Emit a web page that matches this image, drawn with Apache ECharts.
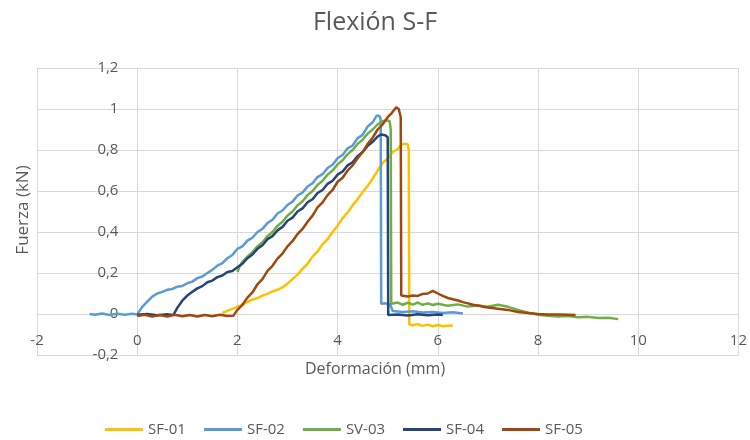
<!DOCTYPE html>
<html>
<head>
<meta charset="utf-8">
<script src="https://cdn.jsdelivr.net/npm/echarts@6/dist/echarts.min.js"></script>
<style>
html,body{margin:0;padding:0;background:#fff;}
#chart{width:750px;height:440px;}
</style>
</head>
<body>
<div id="chart"></div>
<script>
// Series names
var seriesNames = ['SF-01', 'SF-02', 'SV-03', 'SF-04', 'SF-05'];
// Axis ticks
var xTicks = [-2, 0, 2, 4, 6, 8, 10, 12];
var yTicks = [-0.2, 0, 0.2, 0.4, 0.6, 0.8, 1, 1.2];

// [Deformación (mm), Fuerza (kN)]
var sf01 = [[1.7,0.005],[1.8,0.015],[1.9,0.025],[2.0,0.035],[2.1,0.045],[2.25,0.065],[2.4,0.078],[2.5,0.09],[2.6,0.098],[2.7,0.11],[2.8,0.118],[2.9,0.13],[3.0,0.148],[3.1,0.17],[3.2,0.192],[3.3,0.22],[3.4,0.245],[3.5,0.28],[3.6,0.305],[3.7,0.34],[3.8,0.365],[3.9,0.4],[4.0,0.43],[4.1,0.468],[4.2,0.495],[4.3,0.53],[4.4,0.56],[4.5,0.595],[4.6,0.625],[4.7,0.66],[4.8,0.7],[4.9,0.738],[5.0,0.758],[5.1,0.79],[5.2,0.805],[5.27,0.825],[5.33,0.83],[5.4,0.828],[5.42,0.8],[5.43,-0.05],[5.5,-0.055],[5.6,-0.05],[5.7,-0.058],[5.8,-0.052],[5.9,-0.06],[6.0,-0.054],[6.1,-0.06],[6.3,-0.056]];

var sf02 = [[-0.95,0.0],[-0.85,-0.004],[-0.7,0.002],[-0.55,-0.005],[-0.4,0.001],[-0.25,-0.004],[-0.1,0.001],[0.0,-0.002],[0.1,0.035],[0.2,0.06],[0.3,0.085],[0.4,0.1],[0.5,0.108],[0.6,0.118],[0.7,0.122],[0.8,0.133],[0.9,0.137],[1.0,0.15],[1.1,0.158],[1.2,0.175],[1.3,0.183],[1.4,0.2],[1.5,0.215],[1.6,0.236],[1.7,0.248],[1.8,0.272],[1.9,0.288],[2.0,0.318],[2.1,0.33],[2.2,0.358],[2.3,0.372],[2.4,0.4],[2.5,0.415],[2.6,0.444],[2.7,0.46],[2.8,0.49],[2.9,0.505],[3.0,0.532],[3.1,0.548],[3.2,0.578],[3.3,0.592],[3.4,0.622],[3.5,0.638],[3.6,0.668],[3.7,0.682],[3.8,0.712],[3.9,0.728],[4.0,0.76],[4.1,0.776],[4.2,0.808],[4.3,0.822],[4.4,0.858],[4.5,0.874],[4.6,0.915],[4.7,0.935],[4.78,0.968],[4.84,0.965],[4.86,0.95],[4.87,0.05],[4.95,0.052],[5.05,0.045],[5.1,0.015],[5.3,0.01],[5.5,0.013],[5.7,0.007],[5.9,0.01],[6.1,0.005],[6.3,0.008],[6.5,0.003]];

var sv03 = [[2.0,0.205],[2.05,0.235],[2.1,0.255],[2.2,0.28],[2.3,0.302],[2.4,0.33],[2.5,0.35],[2.6,0.38],[2.7,0.4],[2.8,0.43],[2.9,0.45],[3.0,0.48],[3.1,0.5],[3.2,0.53],[3.3,0.55],[3.4,0.58],[3.5,0.6],[3.6,0.63],[3.7,0.65],[3.8,0.68],[3.9,0.7],[4.0,0.73],[4.1,0.75],[4.2,0.78],[4.3,0.8],[4.4,0.83],[4.5,0.85],[4.6,0.88],[4.7,0.9],[4.8,0.925],[4.9,0.94],[4.97,0.945],[5.04,0.94],[5.06,0.9],[5.07,0.05],[5.2,0.056],[5.3,0.045],[5.4,0.055],[5.5,0.046],[5.6,0.056],[5.7,0.045],[5.8,0.052],[5.9,0.044],[6.0,0.05],[6.2,0.04],[6.4,0.047],[6.6,0.036],[6.8,0.042],[7.0,0.035],[7.2,0.045],[7.4,0.035],[7.6,0.02],[7.8,0.006],[8.0,-0.004],[8.2,-0.008],[8.4,-0.012],[8.6,-0.01],[8.8,-0.016],[9.0,-0.014],[9.2,-0.02],[9.4,-0.018],[9.6,-0.025]];

var sf04 = [[0.0,-0.004],[0.2,0.0],[0.4,-0.006],[0.6,-0.001],[0.72,-0.005],[0.8,0.03],[0.9,0.065],[1.0,0.09],[1.1,0.108],[1.2,0.125],[1.3,0.136],[1.4,0.155],[1.5,0.163],[1.6,0.18],[1.7,0.188],[1.8,0.205],[1.9,0.21],[2.0,0.228],[2.1,0.245],[2.2,0.272],[2.3,0.29],[2.4,0.318],[2.5,0.335],[2.6,0.365],[2.7,0.38],[2.8,0.408],[2.9,0.425],[3.0,0.455],[3.1,0.47],[3.2,0.5],[3.3,0.515],[3.4,0.545],[3.5,0.56],[3.6,0.59],[3.7,0.605],[3.8,0.635],[3.9,0.65],[4.0,0.68],[4.1,0.695],[4.2,0.725],[4.3,0.74],[4.4,0.77],[4.5,0.79],[4.6,0.82],[4.7,0.84],[4.8,0.866],[4.87,0.876],[4.95,0.872],[5.0,0.862],[5.01,-0.005],[5.2,-0.002],[5.4,-0.007],[5.6,-0.001],[5.8,-0.006],[6.0,-0.002],[6.1,-0.005]];

var sf05 = [[0.0,-0.01],[0.15,-0.004],[0.3,-0.012],[0.45,-0.005],[0.6,-0.012],[0.75,-0.004],[0.9,-0.011],[1.05,-0.005],[1.2,-0.012],[1.35,-0.005],[1.5,-0.011],[1.65,-0.004],[1.8,-0.01],[1.92,-0.008],[2.0,0.02],[2.1,0.045],[2.2,0.08],[2.3,0.105],[2.4,0.145],[2.5,0.17],[2.6,0.21],[2.7,0.235],[2.8,0.27],[2.9,0.295],[3.0,0.33],[3.1,0.355],[3.2,0.39],[3.3,0.415],[3.4,0.45],[3.5,0.48],[3.6,0.52],[3.7,0.545],[3.8,0.58],[3.9,0.605],[4.0,0.645],[4.1,0.665],[4.2,0.7],[4.3,0.725],[4.4,0.76],[4.5,0.79],[4.6,0.83],[4.7,0.86],[4.8,0.9],[4.9,0.925],[5.0,0.96],[5.08,0.98],[5.17,1.008],[5.22,1.0],[5.26,0.96],[5.27,0.09],[5.4,0.085],[5.5,0.09],[5.6,0.088],[5.7,0.098],[5.8,0.1],[5.9,0.113],[6.0,0.1],[6.1,0.088],[6.2,0.078],[6.3,0.072],[6.4,0.066],[6.5,0.058],[6.6,0.052],[6.7,0.045],[6.8,0.042],[6.9,0.035],[7.0,0.032],[7.2,0.026],[7.4,0.02],[7.6,0.01],[7.8,0.005],[8.0,0.0],[8.2,-0.002],[8.4,-0.003],[8.6,-0.004],[8.75,-0.005]];

var seriesData = [sf01, sf02, sv03, sf04, sf05];
var colors = ['#FFC000', '#5B9BD5', '#70AD47', '#264478', '#9E480E'];

var FONT = '"Open Sans", "Noto Sans", sans-serif';
var TXT = '#595959';
var GRIDC = '#D9D9D9';

var W = 750, H = 440, GL = 37, GR = 10, GT = 68, GB = 85;
var plotW = W - GL - GR, plotH = H - GT - GB;
var xMin = xTicks[0], xMax = xTicks[xTicks.length - 1];
var yMin = yTicks[0], yMax = yTicks[yTicks.length - 1];
// each axis crosses the other at 0 (as in the Excel chart)
var yAxisShift = plotW * (0 - xMin) / (xMax - xMin);
var xAxisShift = plotH * (0 - yMin) / (yMax - yMin);

function fmt(v) {
  return String(Math.round(v * 10) / 10).replace('.', ',');
}

var chart = echarts.init(document.getElementById('chart'), null, {renderer: 'canvas'});
chart.setOption({
  animation: false,
  backgroundColor: '#ffffff',
  color: colors,
  title: {
    text: 'Flexión S-F',
    left: 'center',
    top: 5,
    textStyle: {color: TXT, fontFamily: FONT, fontSize: 25, fontWeight: 'normal'}
  },
  grid: {left: GL, right: GR, top: GT, bottom: GB, containLabel: false},
  xAxis: {
    type: 'value',
    position: 'bottom',
    offset: -xAxisShift,
    min: xMin, max: xMax, interval: 2,
    axisLine: {show: true, onZero: false, lineStyle: {color: GRIDC, width: 1}},
    axisTick: {show: false},
    axisLabel: {color: TXT, fontFamily: FONT, fontSize: 15, margin: 19, formatter: fmt, showMinLabel: true, showMaxLabel: true},
    splitLine: {show: true, lineStyle: {color: GRIDC, width: 1}}
  },
  yAxis: {
    type: 'value',
    position: 'left',
    offset: -yAxisShift,
    min: yMin, max: yMax, interval: 0.2,
    axisLine: {show: true, onZero: false, lineStyle: {color: GRIDC, width: 1}},
    axisTick: {show: false},
    axisLabel: {color: TXT, fontFamily: FONT, fontSize: 15, margin: 19, formatter: fmt, showMinLabel: true, showMaxLabel: true},
    splitLine: {show: true, lineStyle: {color: GRIDC, width: 1}}
  },
  legend: {
    data: seriesNames,
    left: 105,
    top: 422,
    padding: 0,
    icon: 'rect',
    itemWidth: 38,
    itemHeight: 3,
    itemGap: 18,
    textStyle: {color: TXT, fontFamily: FONT, fontSize: 15}
  },
  graphic: [
    {type: 'text', left: 'center', top: 361, style: {text: 'Deformación (mm)', fill: TXT, font: '16px ' + FONT}},
    {type: 'text', x: 23, y: 210, rotation: Math.PI / 2, style: {text: 'Fuerza (kN)', fill: TXT, font: '17px ' + FONT, textAlign: 'center', textVerticalAlign: 'middle'}}
  ],
  series: seriesNames.map(function (name, i) {
    return {
      name: name,
      type: 'line',
      data: seriesData[i],
      showSymbol: false,
      symbol: 'none',
      lineStyle: {width: 2.5, color: colors[i]},
      itemStyle: {color: colors[i]},
      z: 2 + i
    };
  })
});
</script>
</body>
</html>
